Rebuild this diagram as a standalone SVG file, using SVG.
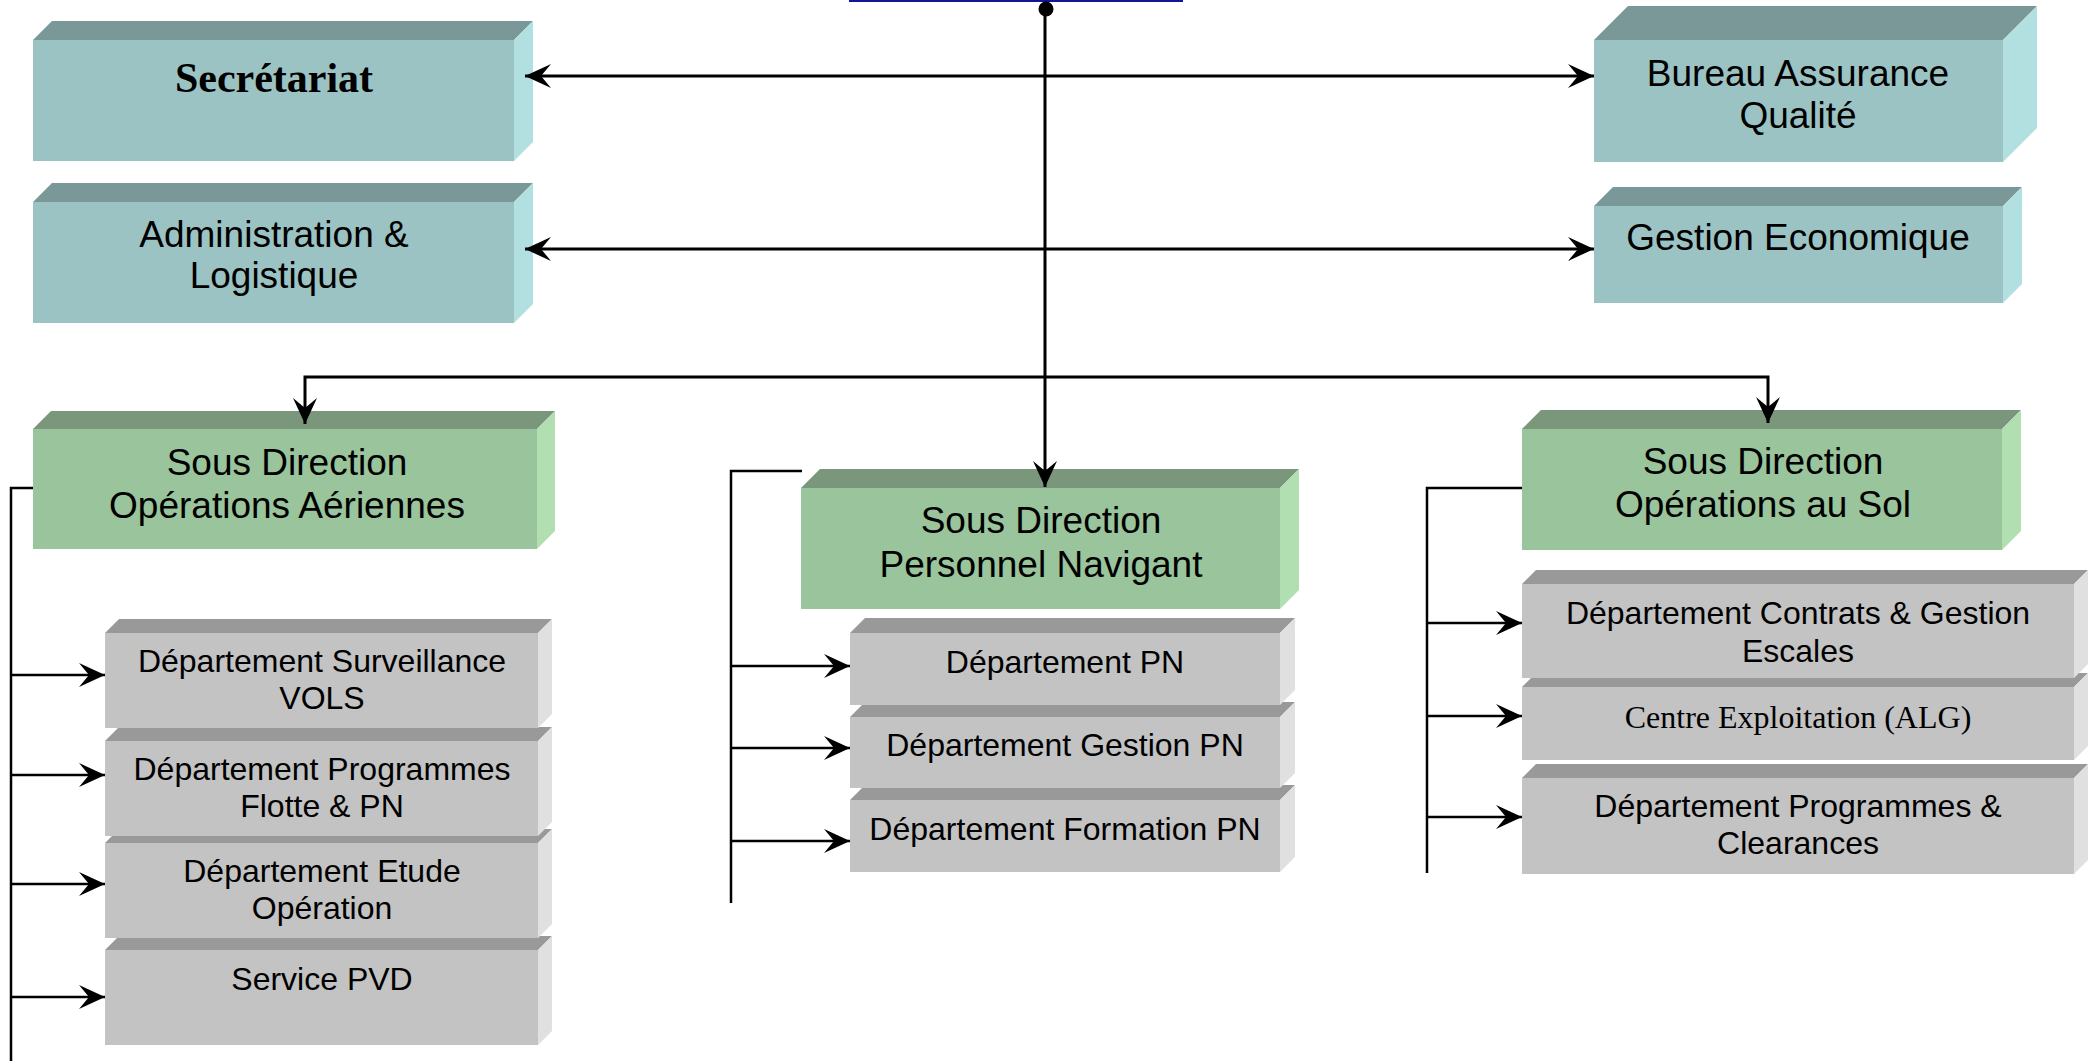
<svg xmlns="http://www.w3.org/2000/svg" width="2091" height="1061" viewBox="0 0 2091 1061">
<style>
.tf{fill:#9CC3C3}.tt{fill:#799897}.tr{fill:#B2E0E0}
.gf{fill:#9AC49B}.gt{fill:#7A967B}.gr{fill:#B1DFB1}
.yf{fill:#C3C3C3}.yt{fill:#999999}.yr{fill:#E0E0E0}
text{font-family:"Liberation Sans",Arial,sans-serif;fill:#000;text-anchor:middle}
.big{font-size:37px}
.sm{font-size:32px}
.ser{font-family:"Liberation Serif","Times New Roman",serif}
.c{fill:none;stroke:#000;stroke-width:3}
.b{fill:none;stroke:#000;stroke-width:2.5}
</style>
<defs>
<marker id="ah" viewBox="-27 -14 28 28" refX="0" refY="0" markerWidth="28" markerHeight="28" markerUnits="userSpaceOnUse" orient="auto-start-reverse">
<path d="M0,0 L-26,-12 L-16,0 L-26,12 Z" fill="#000"/>
</marker>
</defs>

<line x1="849" y1="1" x2="1183" y2="1" stroke="#14149A" stroke-width="2"/>

<g id="secretariat">
<polygon class="tt" points="33,40 52,21 533,21 514,40"/>
<polygon class="tr" points="514,40 533,21 533,142 514,161"/>
<rect class="tf" x="33" y="40" width="481" height="121"/>
<text class="ser" x="274" y="92" font-size="42" font-weight="bold">Secrétariat</text>
</g>
<g id="administration">
<polygon class="tt" points="33,202 52,183 533,183 514,202"/>
<polygon class="tr" points="514,202 533,183 533,304 514,323"/>
<rect class="tf" x="33" y="202" width="481" height="121"/>
<text class="big" x="274" y="247">Administration &amp;</text>
<text class="big" x="274" y="288">Logistique</text>
</g>
<g id="bureau-qualite">
<polygon class="tt" points="1594,40 1628,6 2037,6 2003,40"/>
<polygon class="tr" points="2003,40 2037,6 2037,128 2003,162"/>
<rect class="tf" x="1594" y="40" width="409" height="122"/>
<text class="big" x="1798" y="86">Bureau Assurance</text>
<text class="big" x="1798" y="128">Qualité</text>
</g>
<g id="gestion-economique">
<polygon class="tt" points="1594,206 1613,187 2022,187 2003,206"/>
<polygon class="tr" points="2003,206 2022,187 2022,284 2003,303"/>
<rect class="tf" x="1594" y="206" width="409" height="97"/>
<text class="big" x="1798" y="250">Gestion Economique</text>
</g>

<g id="sd-operations-aeriennes">
<polygon class="gt" points="33,429 51,411 555,411 537,429"/>
<polygon class="gr" points="537,429 555,411 555,531 537,549"/>
<rect class="gf" x="33" y="429" width="504" height="120"/>
<text class="big" x="287" y="475">Sous Direction</text>
<text class="big" x="287" y="518">Opérations Aériennes</text>
</g>
<g id="sd-personnel-navigant">
<polygon class="gt" points="801,488 820,469 1299,469 1280,488"/>
<polygon class="gr" points="1280,488 1299,469 1299,590 1280,609"/>
<rect class="gf" x="801" y="488" width="479" height="121"/>
<text class="big" x="1041" y="533">Sous Direction</text>
<text class="big" x="1041" y="577">Personnel Navigant</text>
</g>
<g id="sd-operations-sol">
<polygon class="gt" points="1522,429 1541,410 2021,410 2002,429"/>
<polygon class="gr" points="2002,429 2021,410 2021,531 2002,550"/>
<rect class="gf" x="1522" y="429" width="480" height="121"/>
<text class="big" x="1763" y="474">Sous Direction</text>
<text class="big" x="1763" y="517">Opérations au Sol</text>
</g>

<g id="service-pvd">
<polygon class="yt" points="105,950 119,936 552,936 538,950"/>
<polygon class="yr" points="538,950 552,936 552,1031 538,1045"/>
<rect class="yf" x="105" y="950" width="433" height="95"/>
<text class="sm" x="322" y="990">Service PVD</text>
</g>
<g id="dep-etude-operation">
<polygon class="yt" points="105,843 119,829 552,829 538,843"/>
<polygon class="yr" points="538,843 552,829 552,924 538,938"/>
<rect class="yf" x="105" y="843" width="433" height="95"/>
<text class="sm" x="322" y="882">Département Etude</text>
<text class="sm" x="322" y="919">Opération</text>
</g>
<g id="dep-programmes-flotte">
<polygon class="yt" points="105,741 119,727 552,727 538,741"/>
<polygon class="yr" points="538,741 552,727 552,822 538,836"/>
<rect class="yf" x="105" y="741" width="433" height="95"/>
<text class="sm" x="322" y="780">Département Programmes</text>
<text class="sm" x="322" y="817">Flotte &amp; PN</text>
</g>
<g id="dep-surveillance-vols">
<polygon class="yt" points="105,633 119,619 552,619 538,633"/>
<polygon class="yr" points="538,633 552,619 552,714 538,728"/>
<rect class="yf" x="105" y="633" width="433" height="95"/>
<text class="sm" x="322" y="672">Département Surveillance</text>
<text class="sm" x="322" y="709">VOLS</text>
</g>

<g id="dep-formation-pn">
<polygon class="yt" points="850,800 865,785 1295,785 1280,800"/>
<polygon class="yr" points="1280,800 1295,785 1295,857 1280,872"/>
<rect class="yf" x="850" y="800" width="430" height="72"/>
<text class="sm" x="1065" y="840">Département Formation PN</text>
</g>
<g id="dep-gestion-pn">
<polygon class="yt" points="850,717 865,702 1295,702 1280,717"/>
<polygon class="yr" points="1280,717 1295,702 1295,773 1280,788"/>
<rect class="yf" x="850" y="717" width="430" height="71"/>
<text class="sm" x="1065" y="756">Département Gestion PN</text>
</g>
<g id="dep-pn">
<polygon class="yt" points="850,633 865,618 1295,618 1280,633"/>
<polygon class="yr" points="1280,633 1295,618 1295,690 1280,705"/>
<rect class="yf" x="850" y="633" width="430" height="72"/>
<text class="sm" x="1065" y="673">Département PN</text>
</g>

<g id="dep-programmes-clearances">
<polygon class="yt" points="1522,778 1536,764 2088,764 2074,778"/>
<polygon class="yr" points="2074,778 2088,764 2088,860 2074,874"/>
<rect class="yf" x="1522" y="778" width="552" height="96"/>
<text class="sm" x="1798" y="817">Département Programmes &amp;</text>
<text class="sm" x="1798" y="854">Clearances</text>
</g>
<g id="centre-exploitation">
<polygon class="yt" points="1522,687 1536,673 2088,673 2074,687"/>
<polygon class="yr" points="2074,687 2088,673 2088,746 2074,760"/>
<rect class="yf" x="1522" y="687" width="552" height="73"/>
<text class="sm ser" x="1798" y="728">Centre Exploitation (ALG)</text>
</g>
<g id="dep-contrats-escales">
<polygon class="yt" points="1522,584 1536,570 2088,570 2074,584"/>
<polygon class="yr" points="2074,584 2088,570 2088,664 2074,678"/>
<rect class="yf" x="1522" y="584" width="552" height="94"/>
<text class="sm" x="1798" y="624">Département Contrats &amp; Gestion</text>
<text class="sm" x="1798" y="662">Escales</text>
</g>

<g id="connectors">
<circle cx="1046" cy="9" r="7.5" fill="#000"/>
<path class="c" d="M1045,9 V487" marker-end="url(#ah)"/>
<path class="c" d="M525,76 H1594" marker-start="url(#ah)" marker-end="url(#ah)"/>
<path class="c" d="M525,249 H1594" marker-start="url(#ah)" marker-end="url(#ah)"/>
<path class="c" d="M305,424 V377 H1768 V423" marker-start="url(#ah)" marker-end="url(#ah)"/>
<path class="b" d="M33,488 H11 V1061"/>
<path class="b" d="M11,675 H105" marker-end="url(#ah)"/>
<path class="b" d="M11,775 H105" marker-end="url(#ah)"/>
<path class="b" d="M11,884 H105" marker-end="url(#ah)"/>
<path class="b" d="M11,997 H105" marker-end="url(#ah)"/>
<path class="b" d="M802,471 H731 V903"/>
<path class="b" d="M731,666 H850" marker-end="url(#ah)"/>
<path class="b" d="M731,748 H850" marker-end="url(#ah)"/>
<path class="b" d="M731,841 H850" marker-end="url(#ah)"/>
<path class="b" d="M1522,488 H1427 V873"/>
<path class="b" d="M1427,623 H1522" marker-end="url(#ah)"/>
<path class="b" d="M1427,716 H1522" marker-end="url(#ah)"/>
<path class="b" d="M1427,817 H1522" marker-end="url(#ah)"/>
</g>
</svg>
